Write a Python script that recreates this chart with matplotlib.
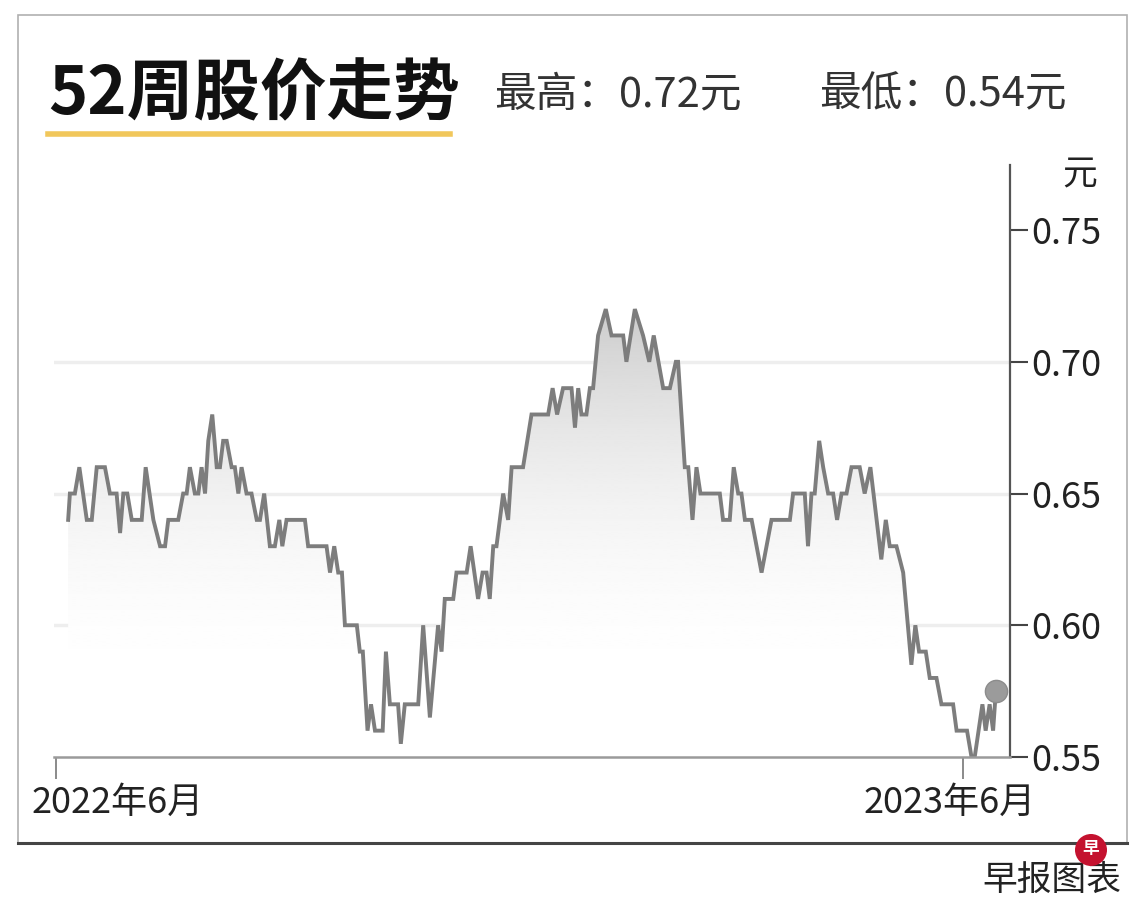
import matplotlib
matplotlib.use('Agg')
import matplotlib.pyplot as plt
import matplotlib.transforms as mtransforms
from matplotlib.patches import Rectangle, Circle, Polygon
from matplotlib.lines import Line2D
import numpy as np

plt.rcParams['font.family'] = ['Noto Sans CJK SC', 'DejaVu Sans']

# ---------------- data ----------------
title = '52周股价走势'
high_text = '最高：0.72元'
low_text = '最低：0.54元'
unit_text = '元'
source_text = '早报图表'

# days since 2022-06-01
days = [4.9, 5.6, 7.6, 9.4, 12.4, 14.4, 16.4, 19.7, 21.7, 24.4,
        25.8, 27.1, 28.7, 30.5, 34.5, 36.1, 39.2, 41.9, 43.9, 45.2,
        49.2, 51.2, 52.6, 53.9, 55.9, 57.3, 58.6, 60.0, 61.3, 62.9,
        64.7, 66.0, 67.3, 68.7, 70.7, 72.0, 73.4, 74.7, 76.7, 78.7,
        80.8, 82.1, 83.8, 86.1, 88.1, 89.9, 91.1, 92.8, 100.2, 101.5,
        108.9, 110.3, 112.0, 113.6, 115.1, 116.3, 121.1, 122.3, 123.5, 125.4,
        126.8, 128.4, 131.5, 132.8, 134.4, 137.7, 138.8, 140.4, 145.8, 147.8,
        150.5, 153.8, 155.2, 156.5, 159.9, 161.2, 165.3, 166.9, 169.9, 171.7,
        173.3, 174.6, 176.0, 177.3, 180.0, 182.0, 183.4, 188.0, 191.4, 198.1,
        199.9, 201.7, 204.1, 207.5, 208.9, 210.2, 211.5, 213.5, 214.9, 216.2,
        218.2, 221.3, 223.6, 228.3, 229.6, 233.0, 236.3, 238.8, 240.6, 244.4,
        247.1, 249.5, 250.4, 253.1, 254.5, 256.2, 257.8, 259.4, 267.2, 268.5,
        271.2, 272.8, 274.6, 275.9, 277.3, 280.0, 284.0, 288.0, 295.4, 296.7,
        301.4, 302.7, 304.1, 305.4, 307.2, 308.8, 310.8, 312.8, 314.4, 316.2,
        318.2, 320.2, 323.5, 325.5, 327.8, 332.2, 334.0, 335.6, 338.3, 341.0,
        344.3, 345.9, 347.4, 350.1, 351.7, 354.4, 356.4, 361.1, 362.5, 366.7,
        368.5, 369.8, 372.9, 374.2, 375.8, 377.2, 378.3]

prices = [0.64, 0.65, 0.65, 0.66, 0.64, 0.64, 0.66, 0.66, 0.65, 0.65,
          0.635, 0.65, 0.65, 0.64, 0.64, 0.66, 0.64, 0.63, 0.63, 0.64,
          0.64, 0.65, 0.65, 0.66, 0.65, 0.65, 0.66, 0.65, 0.67, 0.68,
          0.66, 0.66, 0.67, 0.67, 0.66, 0.66, 0.65, 0.66, 0.65, 0.65,
          0.64, 0.64, 0.65, 0.63, 0.63, 0.64, 0.63, 0.64, 0.64, 0.63,
          0.63, 0.62, 0.63, 0.62, 0.62, 0.60, 0.60, 0.59, 0.59, 0.56,
          0.57, 0.56, 0.56, 0.59, 0.57, 0.57, 0.555, 0.57, 0.57, 0.60,
          0.565, 0.60, 0.59, 0.61, 0.61, 0.62, 0.62, 0.63, 0.61, 0.62,
          0.62, 0.61, 0.63, 0.63, 0.65, 0.64, 0.66, 0.66, 0.68, 0.68,
          0.69, 0.68, 0.69, 0.69, 0.675, 0.69, 0.68, 0.68, 0.69, 0.69,
          0.71, 0.72, 0.71, 0.71, 0.70, 0.72, 0.71, 0.70, 0.71, 0.69,
          0.69, 0.70, 0.70, 0.66, 0.66, 0.64, 0.66, 0.65, 0.65, 0.64,
          0.64, 0.66, 0.65, 0.65, 0.64, 0.64, 0.62, 0.64, 0.64, 0.65,
          0.65, 0.63, 0.65, 0.65, 0.67, 0.66, 0.65, 0.65, 0.64, 0.65,
          0.65, 0.66, 0.66, 0.65, 0.66, 0.625, 0.64, 0.63, 0.63, 0.62,
          0.585, 0.60, 0.59, 0.59, 0.58, 0.58, 0.57, 0.57, 0.56, 0.56,
          0.55, 0.55, 0.57, 0.56, 0.57, 0.56, 0.575]

yticks = [0.55, 0.60, 0.65, 0.70, 0.75]
ytick_labels = ['0.55', '0.60', '0.65', '0.70', '0.75']
grid_levels = [0.60, 0.65, 0.70]
xtick_days = [0, 365]
xtick_labels = ['2022年6月', '2023年6月']

assert len(days) == len(prices)

W, H = 1140, 908
fig = plt.figure(figsize=(W / 100, H / 100), dpi=100)
fig.patch.set_facecolor('white')

def fx(px):
    return px / W

def fy(py):
    return 1 - py / H

ax_left, ax_right, ax_top, ax_bottom = 53.5, 1010, 165, 757
ax = fig.add_axes([fx(ax_left), fy(ax_bottom), fx(ax_right - ax_left), (ax_bottom - ax_top) / H])
ymin, ymax = 0.55, 0.7747
xmin, xmax = -1, 384
ax.set_xlim(xmin, xmax)
ax.set_ylim(ymin, ymax)
ax.set_facecolor('none')

# gridlines
for g in grid_levels:
    ax.axhline(g, color='#eeeeee', lw=2.5, zorder=0.5)

# gradient fill under the line
grad = np.linspace(ymin, ymax, 300)
shade = 1 - 0.2 * np.clip((grad - 0.57) / 0.15, 0, None) ** 2
im = ax.imshow(shade.reshape(-1, 1), cmap='gray', vmin=0, vmax=1, origin='lower',
               extent=[xmin, xmax, ymin, ymax], aspect='auto', zorder=1,
               interpolation='bilinear')
poly_xy = np.column_stack([np.r_[days[0], days, days[-1]],
                           np.r_[ymin, prices, ymin]])
poly = Polygon(poly_xy, closed=True, facecolor='none', edgecolor='none',
               transform=ax.transData)
ax.add_patch(poly)
im.set_clip_path(poly)

# price line
ax.plot(days, prices, color='#7d7d7d', lw=2.8, zorder=3, solid_joinstyle='miter')
ax.plot([days[-1]], [prices[-1]], 'o', ms=16, color='#9b9b9b', mec='#8c8c8c',
        mew=1, zorder=4, clip_on=False)

# spines
for s in ['top', 'left']:
    ax.spines[s].set_visible(False)
ax.spines['right'].set_color('#555555')
ax.spines['right'].set_linewidth(1.6)
ax.spines['bottom'].set_color('#9a9a9a')
ax.spines['bottom'].set_linewidth(1.8)
ax.spines['bottom'].set_zorder(5)

ax.yaxis.tick_right()
ax.set_yticks(yticks)
ax.set_yticklabels(ytick_labels)
ax.tick_params(axis='y', direction='out', length=13, width=1.5, color='#444444',
               labelsize=26, pad=2, labelcolor='#222222')

ax.set_xticks(xtick_days)
ax.set_xticklabels(xtick_labels)
ax.tick_params(axis='x', direction='out', length=16, width=1.2, color='#777777',
               labelsize=26, pad=4, labelcolor='#222222')
xl = ax.get_xticklabels()
xl[0].set_ha('left')
xl[0].set_transform(xl[0].get_transform() +
                    mtransforms.ScaledTranslation(-0.24, 0, fig.dpi_scale_trans))
xl[1].set_transform(xl[1].get_transform() +
                    mtransforms.ScaledTranslation(-0.13, 0, fig.dpi_scale_trans))

# unit label
fig.text(fx(1080), fy(175), unit_text, ha='center', va='center', fontsize=25,
         color='#222222')

# header
fig.text(fx(48), fy(95), title, fontsize=48, fontweight='bold', ha='left',
         va='center', color='#111111')
fig.add_artist(Line2D([fx(48), fx(450)], [fy(134), fy(134)], color='#f1c75b',
                      lw=4, transform=fig.transFigure))
fig.text(fx(494), fy(95), high_text, fontsize=30, ha='left', va='center', color='#333333')
fig.text(fx(819), fy(95), low_text, fontsize=30, ha='left', va='center', color='#333333')

# border
fig.add_artist(Rectangle((fx(18), fy(843)), fx(1127 - 18), (843 - 15) / H,
                         transform=fig.transFigure, fill=False, edgecolor='#b0b0b0',
                         lw=1.2))
fig.add_artist(Line2D([fx(18), fx(1127)], [fy(843), fy(843)], color='#444444',
                      lw=2.2, transform=fig.transFigure))

# footer
fig.text(fx(1121), fy(880), source_text, fontsize=25, ha='right', va='center',
         color='#222222')
fig.add_artist(Circle((1091 / 100, (H - 850) / 100), 0.16, transform=fig.dpi_scale_trans,
                      facecolor='#c4122f', edgecolor='none', zorder=10))
fig.text(fx(1091), fy(849), '早', fontsize=12, fontweight='bold', ha='center',
         va='center', color='white', zorder=11)

fig.savefig('out.png', dpi=100, facecolor='white')
